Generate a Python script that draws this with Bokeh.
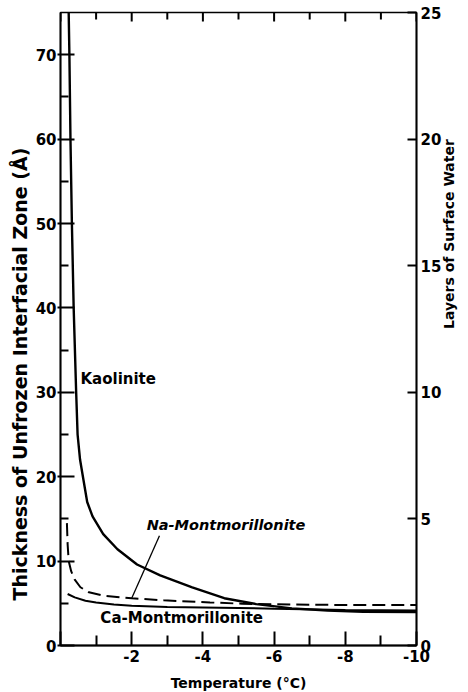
import math
from bokeh.plotting import figure
from bokeh.models import Range1d, LinearAxis, FixedTicker, Title
from bokeh.embed import file_html
from bokeh.resources import INLINE

# ---- data ----
kaol_T = [-0.23, -0.25, -0.28, -0.32, -0.37, -0.44, -0.48, -0.55, -0.63, -0.75, -0.9, -1.2, -1.6, -2.15,
          -2.8, -3.7, -4.6, -5.5, -6.5, -7.5, -8.5, -10.0]
kaol_A = [75, 70, 60, 50, 40, 30, 25, 22, 20, 17, 15.3, 13.2, 11.4, 9.6,
          8.3, 6.9, 5.6, 4.9, 4.4, 4.15, 4.0, 3.95]

na_T = [-0.18, -0.2, -0.23, -0.3, -0.4, -0.56, -0.8, -1.2, -2.0, -2.9, -4.2, -5.1, -6.5, -8.0, -10.0]
na_A = [14.5, 12.0, 10.0, 8.8, 7.8, 6.9, 6.3, 5.9, 5.6, 5.35, 5.1, 4.95, 4.85, 4.8, 4.8]

ca_T = [-0.2, -0.4, -0.7, -1.0, -1.5, -2.0, -3.0, -4.0, -5.0, -6.0, -8.0, -10.0]
ca_A = [6.1, 5.7, 5.3, 5.1, 4.85, 4.7, 4.55, 4.5, 4.45, 4.35, 4.2, 4.15]

leader_T = [-2.78, -2.0]
leader_A = [13.0, 5.6]

x_ticks = [0, -2, -4, -6, -8, -10]
x_tick_labels = ["", "-2", "-4", "-6", "-8", "-10"]
x_minor = [-1, -3, -5, -7, -9]
y_ticks = [0, 10, 20, 30, 40, 50, 60, 70]
y_tick_labels = ["0", "10", "20", "30", "40", "50", "60", "70"]
y_minor = [5, 15, 25, 35, 45, 55, 65]
layer_ticks = [0, 5, 10, 15, 20, 25]
layer_tick_labels = ["0", "5", "10", "15", "20", "25"]

T_MIN, T_MAX = 0, -10
A_MIN, A_MAX = 0, 75
L_MIN, L_MAX = 0, 25

FONT = "DejaVu Sans"
FW, FH = 356, 633

p = figure(frame_width=FW, frame_height=FH, output_backend="svg", toolbar_location=None,
           x_range=Range1d(T_MIN, T_MAX), y_range=Range1d(A_MIN, A_MAX),
           min_border_left=60, min_border_right=44, min_border_top=12, min_border_bottom=45)
p.grid.visible = False
p.outline_line_color = "black"
p.outline_line_width = 1.5
p.background_fill_color = "white"
p.border_fill_color = "white"
p.extra_y_ranges = {"layers": Range1d(L_MIN, L_MAX)}


def style(ax, tick_in, minor_in=0, tick_out=0):
    ax.axis_line_color = "black"
    ax.axis_line_width = 1.8
    ax.major_tick_line_color = "black"
    ax.minor_tick_line_color = "black"
    ax.major_tick_line_width = 2.0
    ax.minor_tick_line_width = 2.0
    ax.major_tick_out = tick_out
    ax.minor_tick_out = 0
    ax.major_tick_in = tick_in
    ax.minor_tick_in = minor_in
    ax.major_label_text_font = FONT
    ax.major_label_text_font_style = "bold"
    ax.major_label_text_font_size = "15px"
    ax.major_label_text_color = "black"
    ax.axis_label_text_font = FONT
    ax.axis_label_text_font_style = "bold"
    ax.axis_label_text_color = "black"


xa = p.xaxis[0]
xa.ticker = FixedTicker(ticks=x_ticks, minor_ticks=x_minor)
xa.major_label_overrides = {t: l for t, l in zip(x_ticks, x_tick_labels)}
style(xa, 14, 10)
xa.major_label_standoff = 4
xa.axis_label = "Temperature (°C)"
xa.axis_label_text_font_size = "14px"
xa.axis_label_standoff = 10

ya = p.yaxis[0]
ya.ticker = FixedTicker(ticks=y_ticks, minor_ticks=y_minor)
ya.major_label_overrides = {t: l for t, l in zip(y_ticks, y_tick_labels)}
style(ya, 14, 8, 3)
ya.major_label_standoff = 1

ra = LinearAxis(y_range_name="layers", ticker=FixedTicker(ticks=layer_ticks, minor_ticks=[]))
ra.major_label_overrides = {t: l for t, l in zip(layer_ticks, layer_tick_labels)}
style(ra, 9)
ra.major_label_standoff = 4
ra.axis_label = "Layers of Surface Water"
ra.axis_label_text_font_size = "14px"
ra.axis_label_standoff = 5
ra.axis_label_orientation = math.pi / 2
p.add_layout(ra, "right")

p.add_layout(Title(text="Thickness of Unfrozen Interfacial Zone (Å)", text_font=FONT,
                   text_font_style="bold", text_font_size="19px", text_color="black",
                   align="left", offset=45, standoff=4), "left")

# tick marks along the top edge: short lines starting just outside the frame (clipped by it)
px_L = FH / (L_MAX - L_MIN)
tick_kw = dict(line_color="black", line_width=2.0, y_range_name="layers")
OUT = 3
for t, ln in [(v, 9) for v in x_ticks] + [(v, 7) for v in x_minor]:
    p.line([t, t], [L_MAX + OUT / px_L, L_MAX - ln / px_L], **tick_kw)

# curves
p.line(kaol_T, kaol_A, line_color="black", line_width=2.4)
p.line(na_T, na_A, line_color="black", line_width=2.0, line_dash="13 6")
p.line(ca_T, ca_A, line_color="black", line_width=2.0)
p.line(leader_T, leader_A, line_color="black", line_width=1.3)

# curve labels
p.text(x=[-0.56], y=[31.6], text=["Kaolinite"], text_font={"value": FONT}, text_font_style="bold",
       text_font_size="15px", text_color="black", text_baseline="middle", text_align="left")
p.text(x=[-2.42], y=[14.3], text=["Na-Montmorillonite"], text_font={"value": FONT},
       text_font_style="bold italic", text_font_size="14.5px", text_color="black",
       text_baseline="middle", text_align="left")
p.text(x=[-1.12], y=[3.2], text=["Ca-Montmorillonite"], text_font={"value": FONT}, text_font_style="bold",
       text_font_size="15px", text_color="black", text_baseline="middle", text_align="left")

open("out.html", "w").write(file_html(p, INLINE))
